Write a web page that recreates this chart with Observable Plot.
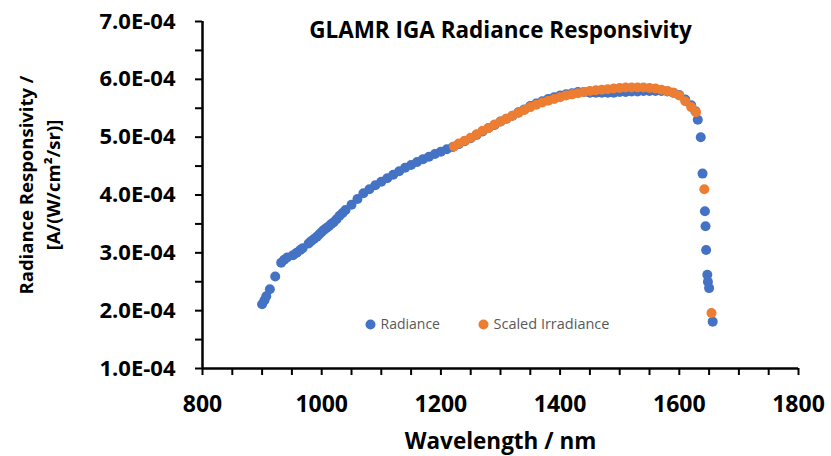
<!DOCTYPE html>
<html><head><meta charset="utf-8">
<script src="https://cdn.jsdelivr.net/npm/d3@7"></script>
<script src="https://cdn.jsdelivr.net/npm/@observablehq/plot@0.6"></script>
<style>body{margin:0;background:#fff} #chart svg{display:block}</style>
</head><body><div id="chart"></div>
<script>
const title = "GLAMR IGA Radiance Responsivity";
const xLabel = "Wavelength / nm";
const yLabel1 = "Radiance Responsivity /";
const yLabel2 = "[A/(W/cm²/sr)]";
const seriesNames = ["Radiance", "Scaled Irradiance"];
const seriesColors = ["#4472C4", "#ED7D31"];
const xTicks = [800, 1000, 1200, 1400, 1600, 1800];
const xMinorTicks = [850, 900, 950, 1050, 1100, 1150, 1250, 1300, 1350, 1450, 1500, 1550, 1650, 1700, 1750];
const yTicks = [1e-4, 2e-4, 3e-4, 4e-4, 5e-4, 6e-4, 7e-4];
const yMinorTicks = [1.5e-4, 2.5e-4, 3.5e-4, 4.5e-4, 5.5e-4, 6.5e-4];

// Radiance responsivity, values in units of 1E-04
const radianceWl = [900, 904, 907, 913, 922, 932, 937, 942, 952, 958, 964, 968, 978, 982, 987, 992, 996, 1000, 1004, 1008, 1012, 1016, 1020, 1025, 1030, 1035,
  1040, 1050, 1060, 1070, 1080, 1090, 1100, 1110, 1120, 1130, 1140, 1150, 1160, 1170, 1180, 1190, 1200, 1210, 1220, 1230, 1240, 1250,
  1260, 1270, 1280, 1290, 1300, 1310, 1320, 1330, 1340, 1350, 1360, 1370, 1380, 1390, 1400, 1410, 1420, 1430, 1440, 1450, 1460, 1470,
  1480, 1490, 1500, 1510, 1520, 1530, 1540, 1550, 1560, 1570, 1580, 1590, 1600, 1610, 1620, 1627, 1631, 1636, 1639, 1643, 1644, 1645,
  1647, 1648, 1650, 1656];
const radianceVal = [2.11, 2.18, 2.25, 2.37, 2.59, 2.83, 2.88, 2.92, 2.96, 3.00, 3.05, 3.08, 3.16, 3.20, 3.24, 3.28, 3.32, 3.36, 3.40, 3.43, 3.46, 3.50, 3.53, 3.58, 3.64, 3.69,
  3.74, 3.83, 3.93, 4.03, 4.10, 4.17, 4.23, 4.29, 4.35, 4.41, 4.47, 4.52, 4.57, 4.62, 4.66, 4.71, 4.75, 4.79, 4.83, 4.88, 4.93, 4.98,
  5.04, 5.10, 5.16, 5.21, 5.27, 5.32, 5.37, 5.43, 5.48, 5.54, 5.58, 5.62, 5.66, 5.69, 5.72, 5.74, 5.76, 5.78, 5.78, 5.77, 5.77, 5.77,
  5.77, 5.77, 5.78, 5.78, 5.79, 5.79, 5.80, 5.80, 5.80, 5.80, 5.79, 5.77, 5.73, 5.65, 5.55, 5.45, 5.30, 5.00, 4.37, 3.72, 3.46, 3.05,
  2.62, 2.50, 2.39, 1.81];

// Scaled irradiance responsivity, values in units of 1E-04
const irradianceWl = [1222, 1230, 1240, 1250, 1260, 1270, 1280, 1290, 1300, 1310, 1320, 1330, 1340, 1350, 1360, 1370, 1380, 1390, 1400, 1410,
  1420, 1430, 1440, 1450, 1460, 1470, 1480, 1490, 1500, 1510, 1520, 1530, 1540, 1550, 1560, 1570, 1580, 1590, 1600, 1610, 1620, 1628, 1642, 1654];
const irradianceVal = [4.84, 4.89, 4.94, 4.99, 5.05, 5.11, 5.16, 5.22, 5.27, 5.32, 5.37, 5.42, 5.47, 5.52, 5.56, 5.60, 5.63, 5.66, 5.69, 5.72,
  5.74, 5.76, 5.78, 5.80, 5.81, 5.82, 5.83, 5.84, 5.85, 5.86, 5.86, 5.86, 5.86, 5.85, 5.84, 5.82, 5.80, 5.77, 5.72, 5.62, 5.52, 5.43, 4.10, 1.96];

const radiance = radianceWl.map((w, i) => ({w, v: radianceVal[i] * 1e-4}));
const irradiance = irradianceWl.map((w, i) => ({w, v: irradianceVal[i] * 1e-4}));

const fmtE = d => {
  const [m, e] = d.toExponential(1).split("e");
  const n = Math.abs(+e);
  return m + "E" + (+e < 0 ? "-" : "+") + String(n).padStart(2, "0");
};

const font = "'Open Sans', sans-serif";
const chart = Plot.plot({
  width: 831, height: 456,
  marginLeft: 202, marginRight: 33, marginTop: 21, marginBottom: 88,
  x: {domain: [800, 1800]},
  y: {domain: [1e-4, 7e-4]},
  style: {fontFamily: font, fontSize: "19px", color: "#000", background: "#fff"},
  marks: [
    Plot.axisX(xMinorTicks, {tickSize: 7, strokeWidth: 2, tickFormat: () => "", label: null}),
    Plot.axisX(xTicks, {tickSize: 7, strokeWidth: 2, tickPadding: 20, tickFormat: d => String(d), fontWeight: "bold", fontSize: 23, label: null}),
    Plot.axisY(yMinorTicks, {tickSize: 7, strokeWidth: 2, tickFormat: () => "", label: null}),
    Plot.axisY(yTicks, {tickSize: 7, strokeWidth: 2, tickPadding: 20, tickFormat: fmtE, fontWeight: "bold", fontSize: 22, label: null}),
    Plot.ruleX([800], {strokeWidth: 2.5, stroke: "#000"}),
    Plot.ruleY([1e-4], {strokeWidth: 2.5, stroke: "#000"}),
    Plot.dot(radiance, {x: "w", y: "v", r: 5, fill: seriesColors[0]}),
    Plot.dot(irradiance, {x: "w", y: "v", r: 5, fill: seriesColors[1]}),
    Plot.text([title], {text: d => d, frameAnchor: "top", dy: 9, lineAnchor: "middle", fontWeight: "bold", fontSize: 22.5}),
    Plot.text([xLabel], {text: d => d, frameAnchor: "bottom", dy: 73, lineAnchor: "middle", fontWeight: "bold", fontSize: 22.5}),
    Plot.text([yLabel1], {text: d => d, frameAnchor: "left", rotate: -90, dx: -175, dy: -10, textAnchor: "middle", lineAnchor: "middle", fontWeight: "bold", fontSize: 18.5}),
    Plot.text([yLabel2], {text: d => d, frameAnchor: "left", rotate: -90, dx: -148, dy: -10, textAnchor: "middle", lineAnchor: "middle", fontWeight: "bold", fontSize: 18.5}),
    Plot.dot([seriesNames[0]], {frameAnchor: "bottom-left", dx: 168, dy: -44, r: 5, fill: seriesColors[0]}),
    Plot.dot([seriesNames[1]], {frameAnchor: "bottom-left", dx: 281, dy: -44, r: 5, fill: seriesColors[1]}),
    Plot.text([seriesNames[0]], {text: d => d, frameAnchor: "bottom-left", dx: 178, dy: -44, textAnchor: "start", lineAnchor: "middle", fill: "#595959", fontSize: 14}),
    Plot.text([seriesNames[1]], {text: d => d, frameAnchor: "bottom-left", dx: 291, dy: -44, textAnchor: "start", lineAnchor: "middle", fill: "#595959", fontSize: 14.5})
  ]
});
document.getElementById("chart").append(chart);
</script>
</body></html>
